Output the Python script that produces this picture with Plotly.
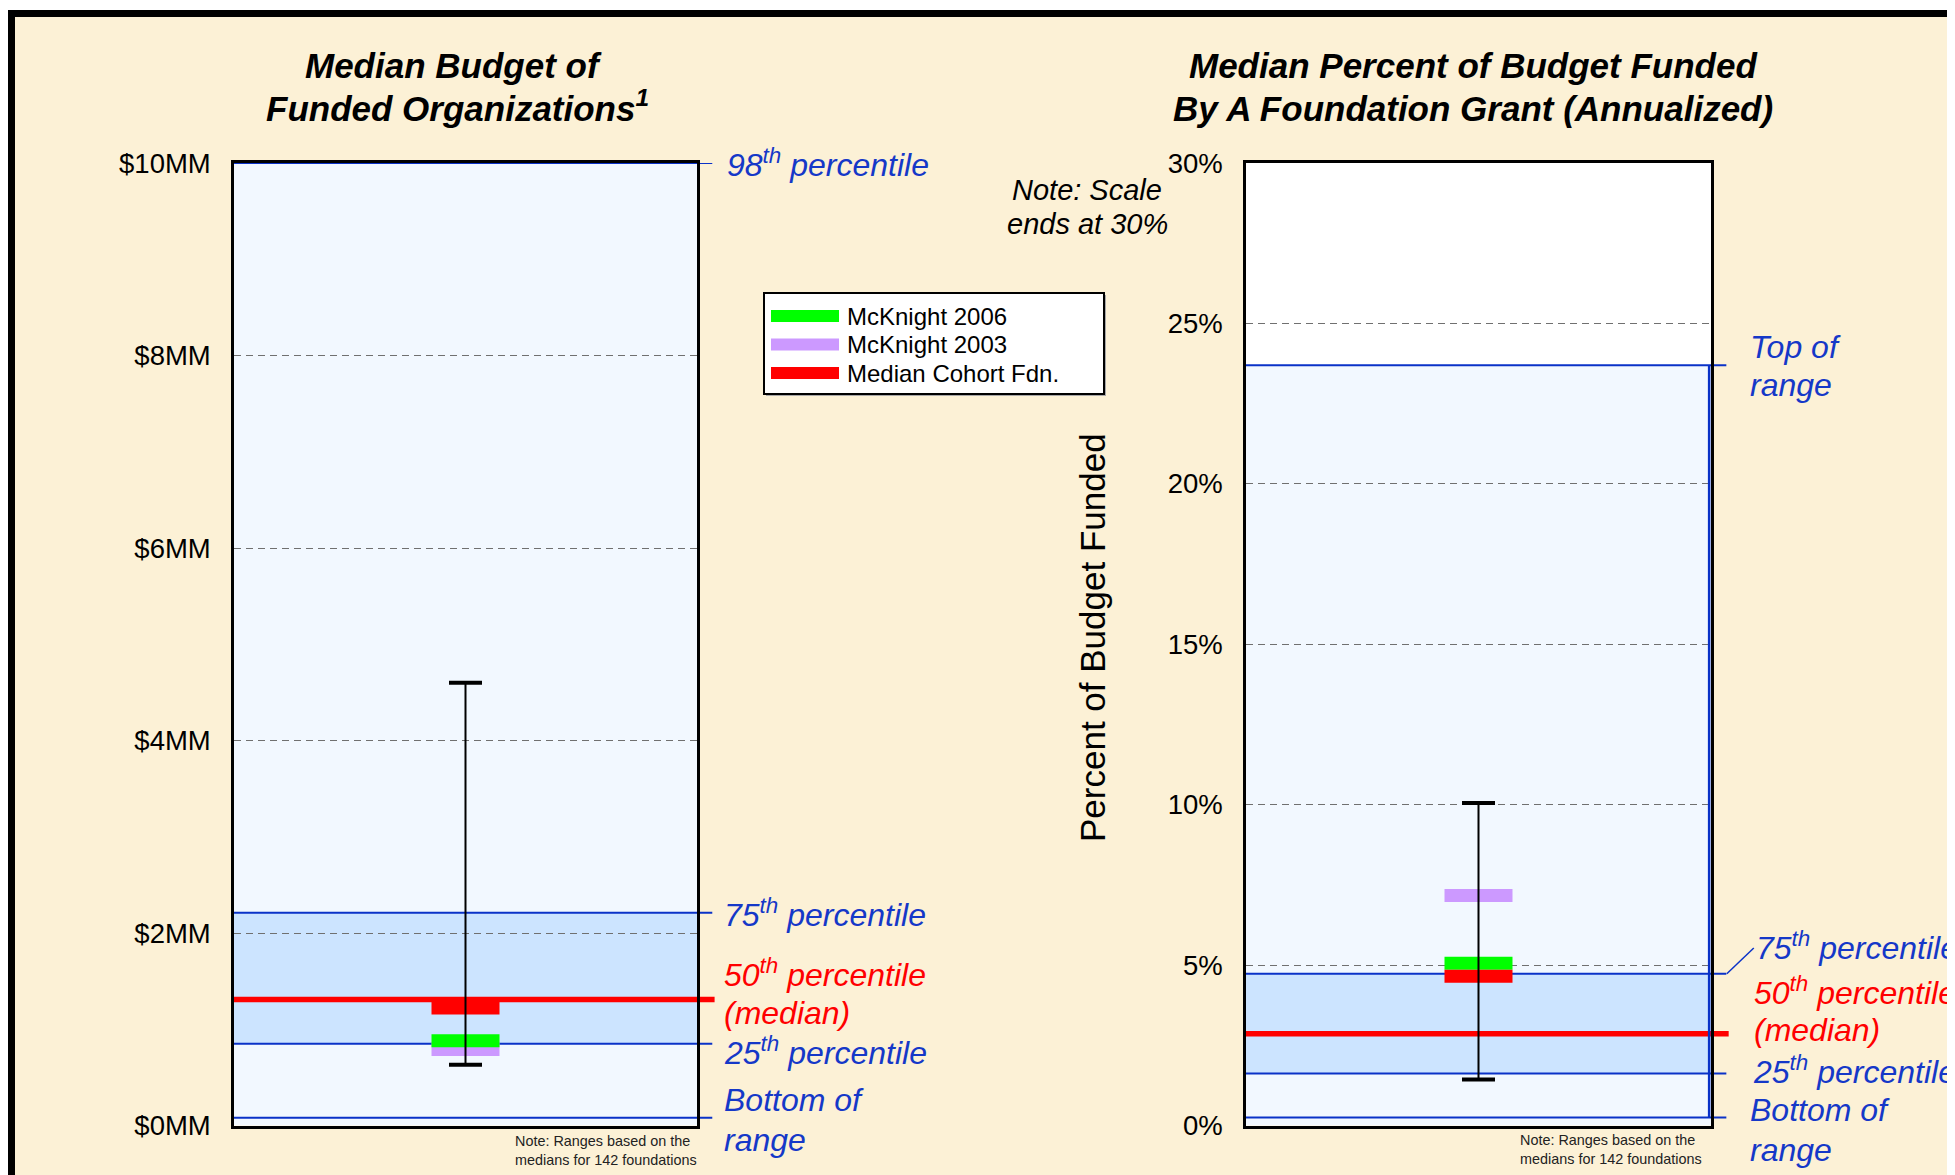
import plotly.graph_objects as go
from plotly.subplots import make_subplots

# ---- data ----
series_names = ["McKnight 2006", "McKnight 2003", "Median Cohort Fdn."]
series_colors = ["#00FF00", "#CC99FF", "#FF0000"]

# left panel: median budget ($MM)
budget_ticks = [0, 2, 4, 6, 8, 10]
budget_ticktext = ["$0MM", "$2MM", "$4MM", "$6MM", "$8MM", "$10MM"]
budget_bottom = 0.08
budget_p25 = 0.85
budget_p50 = 1.31
budget_p75 = 2.21
budget_p98 = 10.0
budget_series = [0.88, 0.79, 1.22]      # 2006, 2003, cohort
budget_whisker = [0.63, 4.6]

# right panel: percent of budget funded (%)
pct_ticks = [0, 5, 10, 15, 20, 25, 30]
pct_ticktext = ["0%", "5%", "10%", "15%", "20%", "25%", "30%"]
pct_bottom = 0.25
pct_p25 = 1.62
pct_p50 = 2.86
pct_p75 = 4.73
pct_top = 23.7
pct_series = [5.06, 7.17, 4.65]
pct_whisker = [1.43, 10.05]

W, H = 1955, 1175
OFF = 8  # page body margin
FONT = "Arial, Liberation Sans, sans-serif"
BLUE_LINE = "#0A32C8"
BLUE_TEXT = "#1538C8"
RED = "#FF0000"
BAND = "#CCE4FF"
LIGHT = "#F2F8FF"
BEIGE = "#FCF1D6"


def px(x, y):
    # page pixel -> paper fraction
    return (x - OFF) / W, 1 - (y - OFF) / H


fig = make_subplots(rows=1, cols=2)
fig.update_layout(
    xaxis=dict(domain=[px(234, 0)[0], px(697, 0)[0]]),
    xaxis2=dict(domain=[px(1246, 0)[0], px(1711, 0)[0]]),
    yaxis=dict(domain=[px(0, 1125.5)[1], px(0, 163)[1]]),
    yaxis2=dict(domain=[px(0, 1125.5)[1], px(0, 163)[1]]),
)

panels = [
    dict(col=1, cat="Budget", series=budget_series, whisker=budget_whisker,
         bottom=budget_bottom, p25=budget_p25, p50=budget_p50, p75=budget_p75,
         top=budget_p98, xd="x domain", yr="y"),
    dict(col=2, cat="Percent", series=pct_series, whisker=pct_whisker,
         bottom=pct_bottom, p25=pct_p25, p50=pct_p50, p75=pct_p75,
         top=pct_top, xd="x2 domain", yr="y2"),
]

shapes = []
for p in panels:
    # markers: 2003 first, then 2006, then cohort
    for i in [1, 0, 2]:
        fig.add_trace(go.Scatter(
            x=[p["cat"]], y=[p["series"][i]], mode="markers", name=series_names[i],
            marker=dict(symbol="line-ew", size=68 / 1.4,
                        line=dict(width=13, color=series_colors[i])),
            showlegend=False), row=1, col=p["col"])
    # whisker stem and caps on top
    fig.add_trace(go.Scatter(x=[p["cat"], p["cat"]], y=p["whisker"], mode="lines+markers",
                             line=dict(color="black", width=2),
                             marker=dict(symbol="line-ew", size=33 / 1.4,
                                         line=dict(width=4, color="black")),
                             showlegend=False, hoverinfo="skip"), row=1, col=p["col"])

    xd, yr = p["xd"], p["yr"]
    # fills
    shapes.append(dict(type="rect", xref=xd, yref=yr, x0=0, x1=1, y0=0, y1=p["top"],
                       fillcolor=LIGHT, line=dict(width=0), layer="below"))
    shapes.append(dict(type="rect", xref=xd, yref=yr, x0=0, x1=1, y0=p["p25"], y1=p["p75"],
                       fillcolor=BAND, line=dict(width=0), layer="below"))
    # range lines
    for v in [p["bottom"], p["p25"], p["p75"], p["top"]]:
        shapes.append(dict(type="line", xref=xd, yref=yr, x0=0, x1=1.033, y0=v, y1=v,
                           line=dict(color=BLUE_LINE, width=2), layer="below"))
    shapes.append(dict(type="line", xref=xd, yref=yr, x0=0, x1=1.038, y0=p["p50"], y1=p["p50"],
                       line=dict(color=RED, width=5.5), layer="below"))

# blue right edge of the right panel and leader for 75th label
shapes.append(dict(type="line", xref="x2 domain", yref="y2", x0=0.996, x1=0.996,
                   y0=pct_bottom, y1=pct_top, line=dict(color=BLUE_LINE, width=2.5), layer="above"))
shapes.append(dict(type="line", xref="x2 domain", yref="y2", x0=1.034, x1=1.092,
                   y0=pct_p75, y1=pct_p75 + 0.8, line=dict(color=BLUE_LINE, width=1.5)))

# page frame
fx, fy = px(0, 10)
shapes.append(dict(type="rect", xref="paper", yref="paper", x0=-0.1, x1=1.1,
                   y0=fy, y1=1.1, fillcolor="white", line=dict(width=0), layer="below"))
fx0, fy0 = px(11.5, 13.5)
shapes.append(dict(type="rect", xref="paper", yref="paper", x0=fx0, x1=1.05,
                   y0=-0.05, y1=fy0, line=dict(color="black", width=7), layer="below"))

# custom legend
lx0, ly0 = px(766, 295)
lx1, ly1 = px(1106, 396)
shapes.append(dict(type="rect", xref="paper", yref="paper", x0=lx0, x1=lx1, y0=ly1, y1=ly0,
                   fillcolor="#A8A8A8", line=dict(width=0)))
lx0, ly0 = px(764, 293)
lx1, ly1 = px(1104, 394)
shapes.append(dict(type="rect", xref="paper", yref="paper", x0=lx0, x1=lx1, y0=ly1, y1=ly0,
                   fillcolor="white", line=dict(color="black", width=2)))

annotations = []
for k, (name, color) in enumerate(zip(series_names, series_colors)):
    cy = 316 + k * 28.5
    sx0, sy0 = px(771, cy - 6)
    sx1, sy1 = px(839, cy + 6)
    shapes.append(dict(type="rect", xref="paper", yref="paper", x0=sx0, x1=sx1, y0=sy1, y1=sy0,
                       fillcolor=color, line=dict(width=0)))
    tx, ty = px(845, cy)
    annotations.append(dict(text=name, x=tx, y=ty, xanchor="left", yanchor="middle",
                            font=dict(size=24, color="black")))


def label(text, x, y, color=BLUE_TEXT, size=32, anchor="left"):
    ax, ay = px(x, y)
    annotations.append(dict(text=text, x=ax, y=ay, xanchor=anchor, yanchor="middle",
                            font=dict(size=size, color=color)))


label("<b><i>Median Budget of</i></b>", 453, 66, color="black", size=35, anchor="center")
label("<b><i>Funded Organizations<sup>1</sup></i></b>", 457, 106, color="black", size=35,
      anchor="center")
label("<b><i>Median Percent of Budget Funded</i></b>", 1473, 66, color="black", size=35,
      anchor="center")
label("<b><i>By A Foundation Grant (Annualized)</i></b>", 1473, 108, color="black", size=35,
      anchor="center")
label("<i>Note: Scale</i>", 1087, 190, color="black", size=29, anchor="center")
label("<i>ends at 30%</i>", 1087, 224, color="black", size=29, anchor="center")

label("<i>98<sup>th</sup> percentile</i>", 725, 163)
label("<i>75<sup>th</sup> percentile</i>", 722, 913)
label("<i>50<sup>th</sup> percentile</i>", 722, 973, color=RED)
label("<i>(median)</i>", 722, 1013, color=RED)
label("<i>25<sup>th</sup> percentile</i>", 722, 1051)
label("<i>Bottom of</i>", 722, 1100)
label("<i>range</i>", 722, 1140)

label("<i>Top of</i>", 1748, 347)
label("<i>range</i>", 1748, 385)
label("<i>75<sup>th</sup> percentile</i>", 1754, 946)
label("<i>50<sup>th</sup> percentile</i>", 1752, 991, color=RED)
label("<i>(median)</i>", 1752, 1030, color=RED)
label("<i>25<sup>th</sup> percentile</i>", 1751, 1070)
label("<i>Bottom of</i>", 1748, 1110)
label("<i>range</i>", 1748, 1150)

note = "Note: Ranges based on the<br>medians for 142 foundations"
nx, ny = px(513, 1150)
annotations.append(dict(text=note, x=nx, y=ny, xanchor="left", yanchor="middle", align="left",
                        font=dict(size=14.4, color="#222222")))
nx, ny = px(1518, 1149)
annotations.append(dict(text=note, x=nx, y=ny, xanchor="left", yanchor="middle", align="left",
                        font=dict(size=14.4, color="#222222")))

ax_, ay_ = px(1092, 638)
annotations.append(dict(text="Percent of Budget Funded", x=ax_, y=ay_, textangle=-90,
                        xanchor="center", yanchor="middle", font=dict(size=35, color="black")))

for a in annotations:
    a.update(xref="paper", yref="paper", showarrow=False)

common_x = dict(type="category", range=[-0.5, 0.5], showticklabels=False, showgrid=False,
                zeroline=False, showline=True, mirror=True, linecolor="black", linewidth=2.5,
                ticks="", automargin=False)
fig.update_xaxes(**common_x)
common_y = dict(showline=True, mirror=True, linecolor="black", linewidth=2.5, ticks="",
                showgrid=True, gridcolor="#707070", gridwidth=1.3, griddash="7px,5px",
                zeroline=False, tickfont=dict(size=27.5, color="black"), ticklabelstandoff=15,
                automargin=False)
fig.update_yaxes(**common_y)
fig.update_yaxes(range=[0, 10], tickvals=budget_ticks, ticktext=budget_ticktext, row=1, col=1)
fig.update_yaxes(range=[0, 30], tickvals=pct_ticks, ticktext=pct_ticktext, row=1, col=2)

fig.update_layout(
    width=W, height=H, margin=dict(l=0, r=0, t=0, b=0, autoexpand=False),
    paper_bgcolor=BEIGE, plot_bgcolor="white",
    font=dict(family=FONT, color="black"),
    shapes=shapes, annotations=annotations, showlegend=False,
)

fig.write_html("out.html")
